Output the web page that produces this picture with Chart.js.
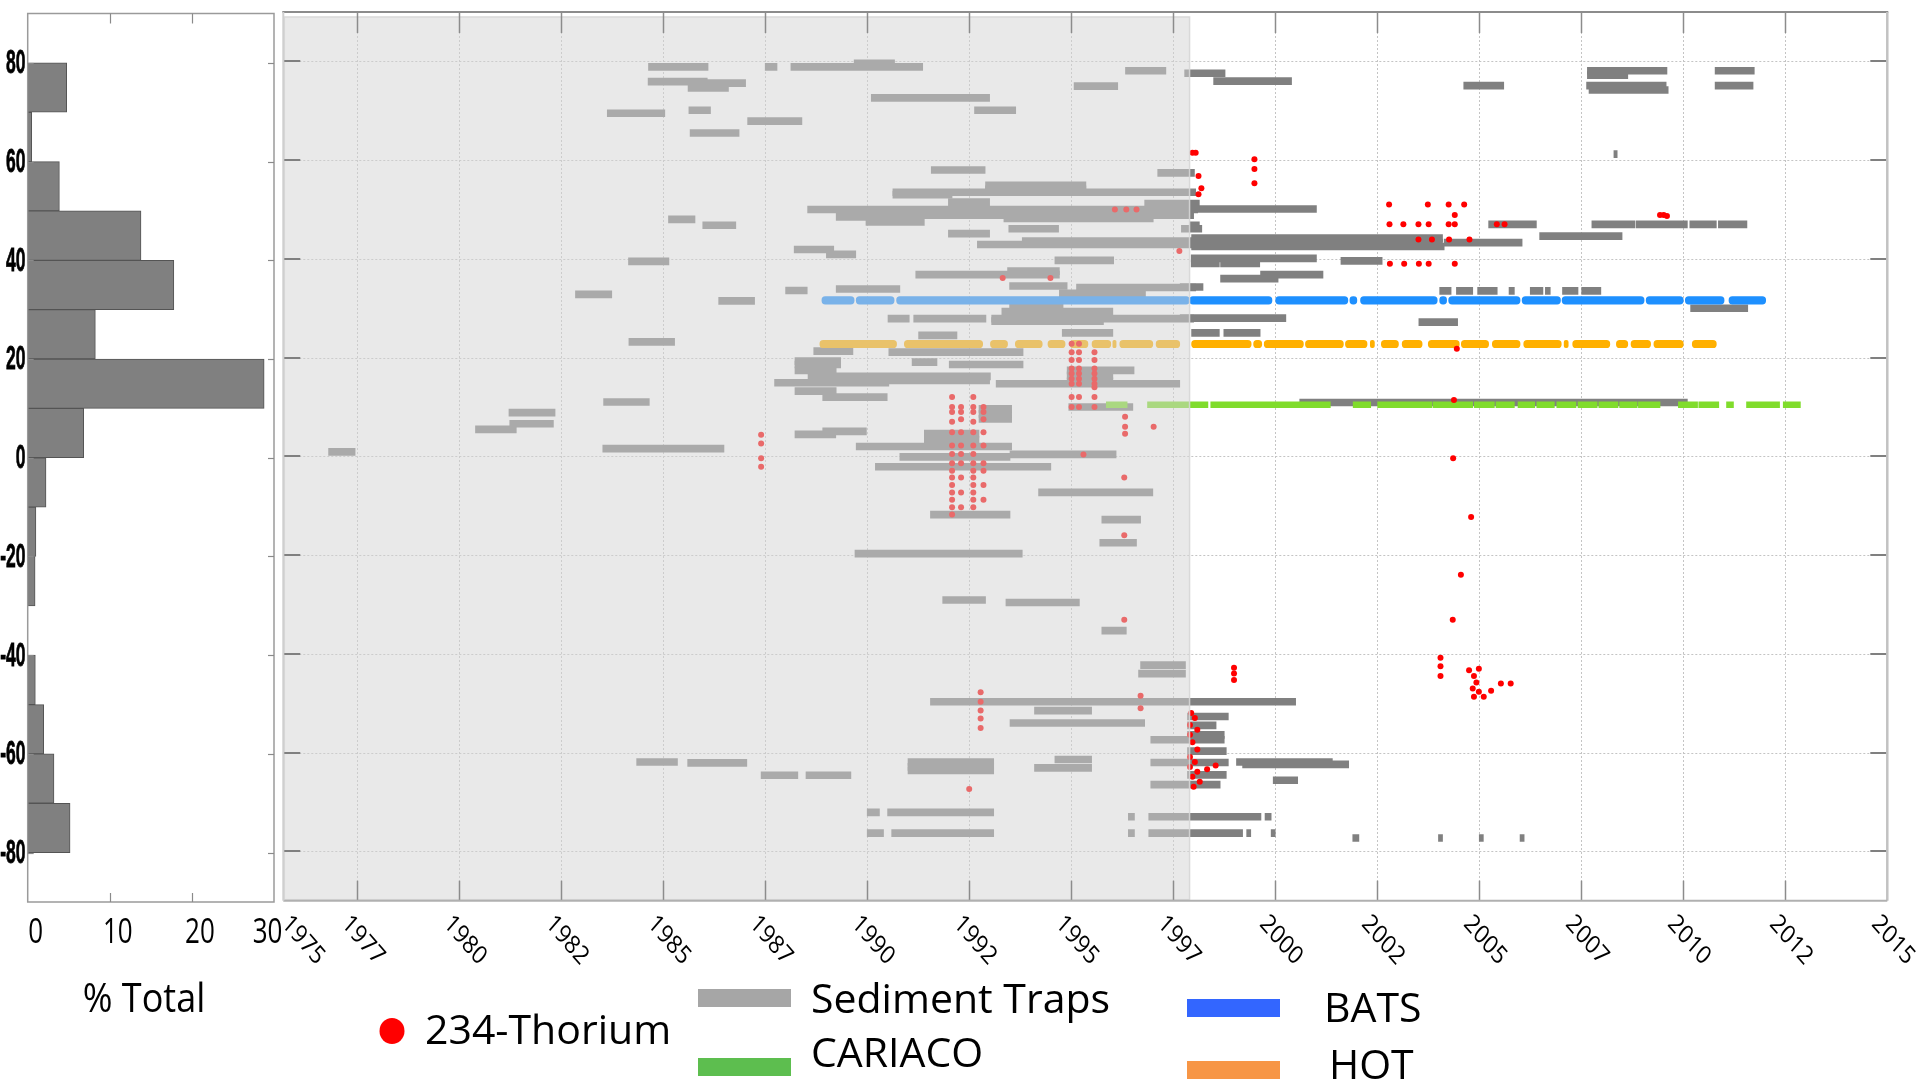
<!DOCTYPE html>
<html>
<head>
<meta charset="utf-8">
<script src="https://cdn.jsdelivr.net/npm/chart.js@4.4.1/dist/chart.umd.min.js"></script>
<style>
  html, body { margin: 0; padding: 0; background: #ffffff; }
  #wrap { position: relative; width: 1920px; height: 1079px; overflow: hidden; }
  #main { position: absolute; left: 0; top: 0; }
  #hist { position: absolute; left: 0; top: 0; }
</style>
</head>
<body>
<div id="wrap">
  <canvas id="main" width="1920" height="1079"></canvas>
  <canvas id="hist" width="300" height="1079"></canvas>
</div>
<script>
// ---------------- data ----------------
// x-axis ticks (years) and their printed labels
const xTickValues = [1975.69, 1977.5, 1980, 1982.5, 1985, 1987.5, 1990, 1992.5, 1995, 1997.5,
                     2000, 2002.5, 2005, 2007.5, 2010, 2012.5, 2015];
const xTickLabels = ['1975', '1977', '1980', '1982', '1985', '1987', '1990', '1992', '1995', '1997',
                     '2000', '2002', '2005', '2007', '2010', '2012', '2015'];
const latTicks = [-80, -60, -40, -20, 0, 20, 40, 60, 80];
const histTicks = [0, 10, 20, 30];

// latitude histogram: lower edge of each 10-degree bin and % of total
const histBinLow = [70, 60, 50, 40, 30, 20, 10, 0, -10, -20, -30, -50, -60, -70, -80];
const histPercent = [4.75, 0.49, 3.86, 13.8, 17.8, 8.24, 28.8, 6.82, 2.23, 1.0, 0.9, 0.93, 1.95, 3.2, 5.16];

// sediment trap deployments: [start year, end year, latitude]
const trapDeployments = [
  [1984.64, 1986.10, 78.9], [1987.50, 1987.79, 78.9], [1988.13, 1991.36, 78.9], [1989.68, 1990.67, 79.6],
  [1984.63, 1986.08, 75.9], [1986.08, 1987.02, 75.6], [1985.61, 1986.60, 74.6], [1990.10, 1993.00, 72.6],
  [1983.63, 1985.04, 69.5], [1985.63, 1986.16, 70.1], [1987.07, 1988.40, 67.9], [1985.66, 1986.86, 65.5],
  [1996.33, 1997.32, 78.1], [1995.07, 1996.14, 75.0], [1992.63, 1993.64, 70.1],
  [1997.78, 1998.77, 77.6], [1998.49, 2000.40, 76.0], [2004.62, 2005.60, 75.1],
  [2007.65, 2009.60, 78.1], [2007.65, 2008.64, 77.2], [2007.63, 2009.58, 75.1], [2007.69, 2009.63, 74.2],
  [2010.78, 2011.74, 78.1], [2010.78, 2011.71, 75.1], [2008.30, 2008.38, 61.2],

  [1991.57, 1992.89, 58.0], [1997.12, 1998.02, 57.4], [1992.90, 1995.36, 54.9], [1992.90, 1995.36, 54.1],
  [1990.63, 1998.05, 53.5], [1990.63, 1992.08, 53.0], [1991.99, 1993.00, 51.5], [1988.54, 1998.10, 50.0],
  [1996.80, 1998.14, 51.2], [1989.24, 1990.80, 48.5], [1989.97, 1991.40, 47.5], [1990.77, 1998.00, 48.85],
  [1993.35, 1997.01, 48.2], [1985.13, 1985.78, 48.0], [1985.97, 1986.78, 46.8], [1993.47, 1994.69, 46.1],
  [1997.70, 1998.20, 46.1], [1991.99, 1993.00, 45.1], [1992.70, 1998.00, 42.9], [1993.80, 1998.00, 43.6],
  [1988.21, 1989.18, 41.9], [1989.00, 1989.72, 40.9], [1994.60, 1996.04, 39.7], [1984.15, 1985.14, 39.5],
  [1991.19, 1994.71, 36.8], [1993.44, 1994.71, 37.5],
  [1997.90, 2001.01, 50.1], [1997.90, 1998.14, 46.8], [1997.95, 2004.10, 44.2], [1997.95, 2004.10, 43.3],
  [1997.95, 2004.14, 42.5], [2004.14, 2006.05, 43.3], [2006.48, 2008.50, 44.6], [2005.23, 2006.40, 47.0],
  [2007.76, 2008.81, 47.0], [2008.84, 2010.10, 47.0], [2010.16, 2010.81, 47.0], [2010.86, 2011.56, 47.0],
  [1997.94, 2001.01, 40.1], [1997.94, 1998.63, 39.1], [1998.66, 1999.62, 39.1], [2001.61, 2002.62, 39.6],
  [1999.64, 2001.17, 36.8], [1998.66, 2000.07, 36.0],

  [1982.85, 1983.74, 32.8], [1984.16, 1985.28, 23.2], [1988.00, 1988.53, 33.6], [1986.36, 1987.24, 31.5],
  [1989.24, 1990.80, 33.9], [1993.49, 1994.90, 34.5], [1995.13, 1998.05, 34.2], [1994.71, 1996.82, 33.0],
  [1993.30, 1996.02, 29.3], [1993.49, 1994.80, 30.1], [1990.51, 1991.03, 27.9], [1991.14, 1992.91, 27.9],
  [1993.05, 1998.00, 27.9], [1993.05, 1995.79, 27.4], [1991.26, 1992.20, 24.5], [1994.78, 1996.02, 25.0],
  [1988.69, 1989.65, 21.3], [1990.53, 1993.82, 21.1], [1997.67, 1998.23, 34.3],
  [2004.03, 2004.31, 33.5], [2004.44, 2004.84, 33.5], [2004.96, 2005.44, 33.5], [2005.73, 2005.86, 33.5],
  [2006.25, 2006.56, 33.5], [2006.62, 2006.74, 33.5], [2007.04, 2007.42, 33.5], [2007.51, 2007.98, 33.5],
  [2010.18, 2011.58, 30.0], [1997.67, 2000.26, 28.0], [2003.52, 2004.47, 27.2],
  [1997.95, 1998.63, 25.0], [1998.74, 1999.63, 25.0],

  [1991.10, 1991.71, 19.1], [1992.01, 1993.82, 18.6], [1988.23, 1989.35, 18.6], [1988.23, 1989.35, 19.3],
  [1988.23, 1989.24, 17.4], [1988.55, 1993.02, 16.2], [1989.50, 1993.00, 15.4], [1987.73, 1990.53, 14.9],
  [1993.16, 1997.66, 14.7], [1994.90, 1996.54, 17.4], [1994.90, 1996.02, 16.4], [1994.90, 1996.02, 15.2],
  [1988.23, 1989.24, 13.2], [1988.91, 1990.49, 12.0], [1983.54, 1984.66, 11.0], [1981.22, 1982.35, 8.85],
  [1981.24, 1982.31, 6.6], [1980.40, 1981.40, 5.47], [1988.23, 1989.23, 4.46], [1988.91, 1989.98, 5.07],
  [1989.73, 1993.54, 2.0], [1991.40, 1992.74, 4.6], [1991.40, 1992.74, 3.3], [1992.74, 1993.54, 9.6],
  [1992.74, 1993.54, 8.6], [1992.74, 1993.54, 7.6], [1983.52, 1986.49, 1.55], [1976.80, 1977.45, 0.9],
  [1994.94, 1996.51, 10.0], [1990.80, 1993.50, -0.1], [1990.20, 1994.50, -2.1], [1993.50, 1996.10, 0.4],
  [2000.60, 2010.10, 10.9],

  [1994.20, 1997.00, -7.3], [1991.55, 1993.50, -11.8], [1995.75, 1996.70, -12.8], [1995.70, 1996.60, -17.5],
  [1989.70, 1993.80, -19.7], [1991.85, 1992.90, -29.1], [1993.40, 1995.20, -29.6], [1995.75, 1996.35, -35.3],
  [1996.70, 1997.80, -42.3], [1996.65, 1997.80, -44.0], [1991.55, 2000.50, -49.7], [1994.10, 1995.50, -51.5],
  [1993.50, 1996.80, -54.0], [1984.35, 1985.35, -61.9], [1985.60, 1987.05, -62.1], [1987.40, 1988.30, -64.6],
  [1988.50, 1989.60, -64.6], [1991.00, 1993.10, -61.9], [1991.00, 1993.10, -62.9], [1991.00, 1993.10, -63.6],
  [1994.60, 1995.50, -61.4], [1994.10, 1995.50, -63.1], [1990.00, 1990.30, -72.1], [1990.50, 1993.10, -72.1],
  [1990.00, 1990.40, -76.3], [1990.60, 1993.10, -76.3], [1996.40, 1996.55, -73.0], [1996.40, 1996.55, -76.3],
  [1996.90, 1999.65, -73.0], [1999.75, 1999.90, -73.0], [1996.90, 1999.20, -76.3], [1999.30, 1999.40, -76.3],
  [1999.90, 2000.00, -76.3], [2001.90, 2002.05, -77.3], [2004.00, 2004.10, -77.3], [2005.00, 2005.10, -77.3],
  [2006.00, 2006.10, -77.3], [1997.85, 1998.85, -52.7], [1997.85, 1998.55, -54.5], [1997.85, 1998.75, -56.4],
  [1996.95, 1998.75, -57.4], [1997.85, 1998.80, -59.7], [1996.95, 1998.85, -62.0], [1997.85, 1998.80, -64.5],
  [1996.95, 1998.65, -66.5], [1999.05, 2001.40, -61.9], [1999.20, 2001.80, -62.4], [1999.95, 2000.55, -65.6]
];

// time-series stations: latitude and sampled periods [start, end]
const batsLat = 31.6;
const batsRuns = [
  [1988.89, 1989.68], [1989.73, 1990.66], [1990.72, 1997.90], [1997.90, 1999.92], [2000.01, 2001.78],
  [2001.83, 2002.00], [2002.09, 2003.97], [2004.03, 2004.20], [2004.25, 2006.00], [2006.05, 2006.99],
  [2007.03, 2009.04], [2009.09, 2010.00], [2010.05, 2011.00], [2011.12, 2012.02]
];
const hotLat = 22.75;
const hotRuns = [
  [1988.84, 1990.72], [1990.91, 1992.83], [1993.02, 1993.44], [1993.63, 1994.29], [1994.43, 1994.85],
  [1994.97, 1995.41], [1995.51, 1995.97], [1996.02, 1996.10], [1996.19, 1997.00], [1997.08, 1997.66],
  [1997.95, 1999.41], [1999.47, 1999.67], [1999.73, 2000.69], [2000.74, 2001.67], [2001.72, 2002.25],
  [2002.33, 2002.43], [2002.60, 2003.02], [2003.11, 2003.60], [2003.75, 2004.51], [2004.56, 2005.23],
  [2005.32, 2006.00], [2006.09, 2007.01], [2007.08, 2007.18], [2007.29, 2008.20], [2008.36, 2008.64],
  [2008.72, 2009.20], [2009.28, 2010.00], [2010.22, 2010.81]
];
const cariacoLat = 10.45;
const cariacoRuns = [
  [1995.86, 1996.37], [1996.87, 1997.90], [1997.90, 1998.35], [1998.42, 2001.35], [2001.91, 2002.34],
  [2002.51, 2003.84], [2003.87, 2004.84], [2004.88, 2005.37], [2005.41, 2005.86], [2005.95, 2006.36],
  [2006.41, 2006.84], [2006.90, 2007.37], [2007.42, 2007.89], [2007.93, 2008.40], [2008.44, 2008.87],
  [2008.90, 2009.43], [2009.88, 2010.35], [2010.38, 2010.87], [2011.06, 2011.23], [2011.55, 2012.36],
  [2012.45, 2012.87]
];

// 234Th export profiles: [year, latitude]
const thoriumPoints = [
  [1987.40, 4.4], [1987.40, 2.6], [1987.40, -0.4], [1987.40, -2.1],
  [1992.08, 12.0], [1992.08, 10.0], [1992.08, 9.0], [1992.08, 7.0], [1992.08, 4.9], [1992.08, 2.2],
  [1992.08, 0.5], [1992.08, -1.4], [1992.08, -2.9], [1992.08, -4.3], [1992.08, -5.8], [1992.08, -7.3],
  [1992.08, -8.8], [1992.08, -10.3], [1992.08, -11.8],
  [1992.30, 10.0], [1992.30, 9.0], [1992.30, 7.5], [1992.30, 4.9], [1992.30, 2.2], [1992.30, 0.5],
  [1992.30, -1.4], [1992.30, -4.3], [1992.30, -7.3], [1992.30, -10.3],
  [1992.60, 12.0], [1992.60, 10.0], [1992.60, 9.0], [1992.60, 7.0], [1992.60, 4.9], [1992.60, 2.2],
  [1992.60, 0.5], [1992.60, -1.4], [1992.60, -2.9], [1992.60, -4.3], [1992.60, -5.8], [1992.60, -7.3],
  [1992.60, -8.8], [1992.60, -10.3],
  [1992.85, 10.0], [1992.85, 9.0], [1992.85, 7.5], [1992.85, 4.9], [1992.85, 2.2], [1992.85, -1.4],
  [1992.85, -2.9], [1992.85, -5.8], [1992.85, -8.8],
  [1995.01, 22.8], [1995.01, 21.1], [1995.01, 19.5], [1995.01, 17.8], [1995.01, 16.8], [1995.01, 15.7],
  [1995.01, 14.7], [1995.01, 12.0], [1995.01, 10.0],
  [1995.19, 22.8], [1995.19, 21.1], [1995.19, 19.5], [1995.19, 17.8], [1995.19, 16.8], [1995.19, 15.7],
  [1995.19, 14.7], [1995.19, 12.0], [1995.19, 10.0],
  [1995.57, 21.1], [1995.57, 19.5], [1995.57, 17.8], [1995.57, 16.8], [1995.57, 15.7], [1995.57, 14.7],
  [1995.57, 14.0], [1995.57, 12.0], [1995.57, 10.0],
  [1996.07, 50.0], [1996.35, 50.0], [1996.60, 50.0], [1997.65, 41.6], [1993.32, 36.1], [1994.49, 36.1],
  [1996.32, 8.0], [1996.32, 6.0], [1996.32, 4.6], [1997.02, 6.0], [1995.30, 0.4], [1996.30, -4.3],
  [1996.30, -16.0], [1996.30, -33.1], [1996.70, -48.5], [1996.70, -51.0],
  [1992.78, -47.8], [1992.78, -49.7], [1992.78, -51.5], [1992.78, -53.1], [1992.78, -55.0], [1992.50, -67.4],

  [1997.97, 61.5], [1998.05, 61.5], [1999.49, 60.2], [1999.49, 58.2], [1999.49, 55.3], [1998.12, 56.8],
  [1998.19, 54.3], [1998.12, 53.1],
  [2002.79, 51.0], [2003.74, 51.0], [2004.25, 51.0], [2004.63, 51.0], [2004.40, 48.9],
  [2002.80, 47.0], [2003.14, 47.0], [2003.51, 47.0], [2003.76, 47.0], [2004.25, 47.0], [2004.40, 47.0],
  [2005.43, 47.0], [2005.62, 47.0],
  [2003.51, 43.9], [2003.84, 43.9], [2004.26, 43.9], [2004.76, 43.9],
  [2002.81, 39.0], [2003.16, 39.0], [2003.52, 39.0], [2003.76, 39.0], [2004.40, 39.0],
  [2009.43, 48.9], [2009.52, 48.9], [2009.60, 48.7],
  [2004.45, 21.8], [2004.38, 11.4], [2004.36, -0.4], [2004.80, -12.3], [2004.55, -24.0], [2004.35, -33.1],
  [2004.05, -40.8], [2004.05, -42.5], [2004.05, -44.5],
  [2004.75, -43.3], [2004.87, -44.5], [2004.93, -45.8], [2004.84, -47.0], [2004.99, -47.7], [2004.87, -48.7],
  [2005.11, -48.7], [2005.29, -47.5], [2005.53, -46.0], [2005.77, -46.0], [2004.99, -43.0],
  [1998.99, -42.8], [1998.99, -44.0], [1998.99, -45.3],
  [1997.94, -52.0], [1998.03, -53.0], [1997.91, -54.4], [1998.09, -55.4], [1997.91, -56.4], [1997.97, -57.9],
  [1998.09, -59.4], [1997.91, -60.9], [1998.03, -61.9], [1997.91, -62.9], [1998.09, -63.9], [1997.97, -64.9],
  [1998.15, -65.9], [1998.00, -66.9], [1998.54, -62.6], [1998.33, -63.4]
];

// ---------------- layout ----------------
const X_MIN = 1975.69, X_MAX = 2015, SHADE_END = 1997.9;
const FONT = '"Open Sans", "DejaVu Sans", sans-serif';

function line(ctx, x1, y1, x2, y2) {
  ctx.beginPath(); ctx.moveTo(x1, y1); ctx.lineTo(x2, y2); ctx.stroke();
}

// grid, shading, frame, ticks, rotated year labels and legend of the main panel
const mainDecor = {
  id: 'mainDecor',
  beforeDatasetsDraw(chart) {
    const { ctx, chartArea: a, scales: { x, y } } = chart;
    ctx.save();
    ctx.strokeStyle = '#c4c4c4';
    ctx.lineWidth = 1;
    ctx.setLineDash([2, 2]);
    xTickValues.slice(1, -1).forEach(v => {
      const px = Math.round(x.getPixelForValue(v)) + 0.5;
      line(ctx, px, a.top, px, a.bottom);
    });
    latTicks.forEach(v => {
      const py = Math.round(y.getPixelForValue(v)) + 0.5;
      line(ctx, a.left, py, a.right, py);
    });
    ctx.restore();
  },
  afterDatasetsDraw(chart) {
    const { ctx, chartArea: a, scales: { x, y } } = chart;
    ctx.save();
    // pre-1998 period
    const sx = x.getPixelForValue(SHADE_END);
    ctx.fillStyle = 'rgba(211,211,211,0.5)';
    ctx.fillRect(a.left, a.top + 4.5, sx - a.left, a.bottom - a.top - 4.5);
    ctx.strokeStyle = 'rgba(215,215,215,0.9)';
    ctx.lineWidth = 1.5;
    ctx.strokeRect(a.left + 1, a.top + 5, sx - a.left - 1, a.bottom - a.top - 6);

    // tick marks inside the frame
    ctx.strokeStyle = '#8c8c8c';
    ctx.lineWidth = 1.5;
    xTickValues.slice(1, -1).forEach(v => {
      const px = Math.round(x.getPixelForValue(v)) + 0.5;
      line(ctx, px, a.top, px, a.top + 21);
      line(ctx, px, a.bottom - 20, px, a.bottom);
    });
    ctx.strokeStyle = '#808080';
    ctx.lineWidth = 2;
    latTicks.forEach(v => {
      const py = Math.round(y.getPixelForValue(v));
      line(ctx, a.right - 17, py, a.right, py);
      line(ctx, a.left, py, a.left + 17, py);
    });

    // frame
    ctx.lineWidth = 2;
    ctx.strokeStyle = '#8c8c8c';
    line(ctx, a.left - 1, a.top, a.right + 1, a.top);
    ctx.strokeStyle = '#c2c2c2';
    ctx.lineWidth = 2.5;
    line(ctx, a.right, a.top, a.right, a.bottom);
    ctx.strokeStyle = '#b0b0b0';
    ctx.lineWidth = 2;
    line(ctx, a.left, a.bottom, a.right, a.bottom);
    ctx.strokeStyle = '#cfcfcf';
    line(ctx, a.left, a.top, a.left, a.bottom);
    ctx.restore();
  },
  afterDraw(chart) {
    const { ctx, chartArea: a, scales: { x } } = chart;
    ctx.save();
    ctx.fillStyle = '#000000';
    // rotated year labels
    ctx.font = '22px ' + FONT;
    ctx.textAlign = 'left';
    ctx.textBaseline = 'middle';
    xTickValues.forEach((v, i) => {
      const px = x.getPixelForValue(v) + (i === 0 ? 2 : -12);
      ctx.save();
      ctx.translate(px, a.bottom + 19);
      ctx.scale(1, 1.16);
      ctx.rotate(Math.PI / 4);
      ctx.fillText(xTickLabels[i], 0, 0);
      ctx.restore();
    });

    // legend
    ctx.textBaseline = 'alphabetic';
    ctx.font = '41px ' + FONT;
    ctx.fillStyle = '#ff0000';
    ctx.beginPath();
    ctx.ellipse(392, 1031, 12.5, 13, 0, 0, Math.PI * 2);
    ctx.fill();
    ctx.fillStyle = '#000000';
    ctx.fillText('234-Thorium', 425, 1044);

    ctx.fillStyle = '#a6a6a6';
    ctx.fillRect(698, 989, 93, 18);
    ctx.fillStyle = '#000000';
    ctx.fillText('Sediment Traps', 811, 1013);

    ctx.fillStyle = '#5dbe4f';
    ctx.fillRect(698, 1058, 93, 18);
    ctx.fillStyle = '#000000';
    ctx.fillText('CARIACO', 811, 1067);

    ctx.fillStyle = '#3366ff';
    ctx.fillRect(1187, 999, 93, 18);
    ctx.fillStyle = '#000000';
    ctx.fillText('BATS', 1324, 1022);

    ctx.fillStyle = '#f79646';
    ctx.fillRect(1187, 1061, 93, 18);
    ctx.fillStyle = '#000000';
    ctx.fillText('HOT', 1329, 1079);
    ctx.restore();
  }
};

const toBars = (runs, lat) => runs.map(r => ({ x: [r[0], r[1]], y: lat }));

new Chart(document.getElementById('main'), {
  type: 'bar',
  data: {
    datasets: [
      {
        type: 'scatter',
        label: '234-Thorium',
        data: thoriumPoints.map(p => ({ x: p[0], y: p[1] })),
        pointRadius: 3,
        pointBackgroundColor: '#ff0000',
        pointBorderWidth: 0,
        order: 0
      },
      {
        label: 'BATS',
        data: toBars(batsRuns, batsLat),
        backgroundColor: '#1e90ff',
        barThickness: 7.5,
        borderRadius: 3.7,
        borderSkipped: false,
        grouped: false,
        order: 1
      },
      {
        label: 'HOT',
        data: toBars(hotRuns, hotLat),
        backgroundColor: '#ffb000',
        barThickness: 7.5,
        borderRadius: 3.7,
        borderSkipped: false,
        grouped: false,
        order: 1
      },
      {
        label: 'CARIACO',
        data: toBars(cariacoRuns, cariacoLat),
        backgroundColor: '#80dc2c',
        barThickness: 6,
        borderSkipped: false,
        grouped: false,
        order: 2
      },
      {
        label: 'Sediment Traps',
        data: trapDeployments.map(d => ({ x: [d[0], d[1]], y: d[2] })),
        backgroundColor: '#808080',
        barThickness: 7,
        borderSkipped: false,
        grouped: false,
        order: 3
      }
    ]
  },
  options: {
    responsive: false,
    animation: false,
    indexAxis: 'y',
    layout: { padding: { left: 283.3, top: 12, right: 32.7, bottom: 178.3 } },
    plugins: { legend: { display: false }, tooltip: { enabled: false } },
    scales: {
      x: { type: 'linear', min: X_MIN, max: X_MAX, display: false, offset: false },
      y: { type: 'linear', min: -90, max: 90, display: false, offset: false }
    }
  },
  plugins: [mainDecor]
});

// frame, ticks and labels of the latitude histogram
const histDecor = {
  id: 'histDecor',
  afterDatasetsDraw(chart) {
    const { ctx, chartArea: a, scales: { x, y } } = chart;
    ctx.save();
    ctx.strokeStyle = '#9a9a9a';
    ctx.lineWidth = 1.5;
    ctx.strokeRect(a.left, a.top, a.right - a.left, a.bottom - a.top);
    ctx.strokeStyle = '#8a8a8a';
    ctx.lineWidth = 1.2;
    histTicks.slice(1, -1).forEach(v => {
      const px = Math.round(x.getPixelForValue(v)) + 0.5;
      line(ctx, px, a.top, px, a.top + 10);
      line(ctx, px, a.bottom - 9, px, a.bottom);
    });
    latTicks.forEach(v => {
      const py = Math.round(y.getPixelForValue(v)) + 0.5;
      line(ctx, a.right - 6, py, a.right, py);
      line(ctx, a.left, py, a.left + 6, py);
    });

    // latitude labels
    ctx.fillStyle = '#000000';
    ctx.font = 'bold 25px "Liberation Sans", Arial, sans-serif';
    ctx.textAlign = 'right';
    ctx.textBaseline = 'middle';
    latTicks.forEach(v => {
      ctx.save();
      ctx.translate(25.5, y.getPixelForValue(v) + 1.5);
      ctx.scale(0.7, 1.3);
      ctx.fillText(String(v), 0, 0);
      ctx.strokeStyle = '#000000';
      ctx.lineWidth = 0.6;
      ctx.strokeText(String(v), 0, 0);
      ctx.restore();
    });

    // percentage labels
    ctx.font = '26px ' + FONT;
    ctx.textAlign = 'center';
    ctx.textBaseline = 'alphabetic';
    histTicks.forEach((v, i) => {
      const px = x.getPixelForValue(v) + (i === histTicks.length - 1 ? -6.5 : 8);
      ctx.save();
      ctx.translate(px, 943);
      ctx.scale(1, 1.3);
      ctx.fillText(String(v), 0, 0);
      ctx.restore();
    });

    ctx.font = '36px ' + FONT;
    ctx.save();
    ctx.translate(144, 1012);
    ctx.scale(1, 1.1);
    ctx.fillText('% Total', 0, 0);
    ctx.restore();
    ctx.restore();
  }
};

new Chart(document.getElementById('hist'), {
  type: 'bar',
  data: {
    datasets: [{
      label: '% Total',
      data: histBinLow.map((lo, i) => ({ y: lo + 5, x: histPercent[i] })),
      backgroundColor: '#808080',
      borderColor: '#545454',
      borderWidth: 1,
      borderSkipped: false,
      barPercentage: 1,
      categoryPercentage: 1,
      grouped: false
    }]
  },
  options: {
    responsive: false,
    animation: false,
    indexAxis: 'y',
    layout: { padding: { left: 27.7, top: 13.5, right: 26, bottom: 177 } },
    plugins: { legend: { display: false }, tooltip: { enabled: false } },
    scales: {
      x: { type: 'linear', min: 0, max: 30, display: false },
      y: { type: 'linear', min: -90, max: 90, display: false, offset: false }
    }
  },
  plugins: [histDecor]
});
</script>
</body>
</html>
